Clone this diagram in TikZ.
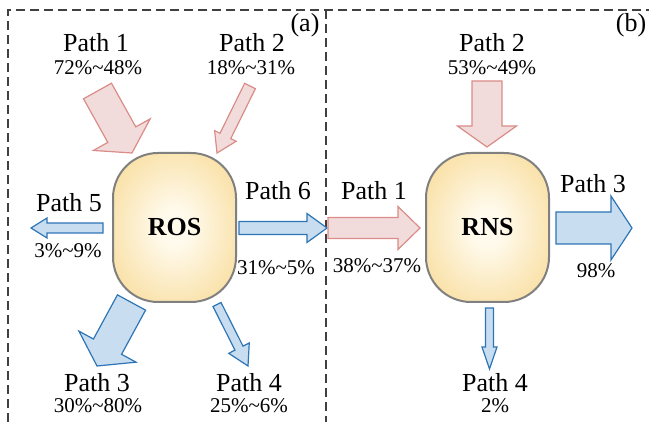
\documentclass[tikz,border=0pt]{standalone}
\usepackage{fontspec}
\setmainfont{Liberation Serif}
\usepackage{tikz}
\usetikzlibrary{calc}
\definecolor{inpink}{RGB}{242,220,219}
\definecolor{inpinkline}{RGB}{217,140,136}
\definecolor{outblue}{RGB}{200,222,240}
\definecolor{outblueline}{RGB}{46,117,182}
\definecolor{tankline}{RGB}{128,128,128}
\definecolor{tankinner}{RGB}{255,250,236}
\definecolor{tankouter}{RGB}{245,206,116}
\definecolor{frameline}{RGB}{64,64,64}
\pgfdeclareradialshading{tankglow}{\pgfpoint{0bp}{0bp}}{%
  color(0bp)=(tankinner); color(6bp)=(tankinner); color(46bp)=(tankouter); color(100bp)=(tankouter)}
\newcommand\sharerange[2]{#1\%\textasciitilde#2\%}
% block arrow: style, tail, tip, half shaft, half head, head length
\newcommand\blockarrow[6]{%
  \coordinate (#2-hb) at ($(#3)!#6pt!(#2)$);
  \draw[#1] ($(#2)!#4pt!90:(#3)$) -- ($(#2-hb)!#4pt!90:(#3)$) -- ($(#2-hb)!#5pt!90:(#3)$)
    -- (#3) -- ($(#2-hb)!#5pt!-90:(#3)$) -- ($(#2-hb)!#4pt!-90:(#3)$)
    -- ($(#2)!#4pt!-90:(#3)$) -- cycle;}
\tikzset{
  inflow/.style={draw=inpinkline, fill=inpink, line width=1.2pt, line join=miter},
  outflow/.style={draw=outblueline, fill=outblue, line width=1.2pt, line join=miter},
  tank/.style={draw=tankline, line width=2pt, shading=tankglow, rounded corners=45pt,
    minimum width=123pt, minimum height=149pt, inner sep=0pt,
    font=\fontsize{26}{28}\selectfont\bfseries},
  pathlbl/.style={font=\fontsize{26}{28}\selectfont, anchor=base, inner sep=0pt},
  sharelbl/.style={font=\fontsize{21}{23}\selectfont, anchor=base, inner sep=0pt},
  panelframe/.style={draw=frameline, line width=1.3pt, dash pattern=on 9pt off 5pt}
}

\begin{document}
\begin{tikzpicture}[x=1pt,y=-1pt]
\useasboundingbox (0,0) rectangle (649,422);
% panels
\draw[panelframe] (8,422) -- (8,10) -- (649,10);
\draw[panelframe] (326,10) -- (326,422);
\node[pathlbl] (taga) at (305,32) {(a)};
\node[pathlbl] (tagb) at (631,32) {(b)};

% arrow ends
\coordinate (in1a) at (97.5,91);   \coordinate (in1a-tip) at (132,153);
\coordinate (in2a) at (250,86);    \coordinate (in2a-tip) at (217,153);
\coordinate (out5a) at (103,228);  \coordinate (out5a-tip) at (31,228);
\coordinate (out6a) at (239,228);  \coordinate (out6a-tip) at (327,228);
\coordinate (out3a) at (131.5,302.5); \coordinate (out3a-tip) at (97,366);
\coordinate (out4a) at (217,304.5);   \coordinate (out4a-tip) at (248,366);
\coordinate (in1b) at (328,228);   \coordinate (in1b-tip) at (420,228);
\coordinate (in2b) at (487,81);    \coordinate (in2b-tip) at (487,147);
\coordinate (out3b) at (556,228);  \coordinate (out3b-tip) at (632,228);
\coordinate (out4b) at (489.5,308); \coordinate (out4b-tip) at (489.5,369);

\blockarrow{inflow}{in1a}{in1a-tip}{16}{32.5}{21}
\blockarrow{inflow}{in2a}{in2a-tip}{6}{12}{19}
\blockarrow{outflow}{out5a}{out5a-tip}{5}{10}{16}
\blockarrow{outflow}{out6a}{out6a-tip}{6.5}{14.5}{20}
\blockarrow{outflow}{out3a}{out3a-tip}{16}{32.5}{22}
\blockarrow{outflow}{out4a}{out4a-tip}{4.5}{11.5}{20}
\blockarrow{inflow}{in1b}{in1b-tip}{10.5}{21.5}{22}
\blockarrow{inflow}{in2b}{in2b-tip}{15}{29.5}{21}
\blockarrow{outflow}{out3b}{out3b-tip}{16}{32}{21}
\blockarrow{outflow}{out4b}{out4b-tip}{4}{7.5}{22}

% tanks
\node[tank] (ros) at (174.5,227.5) {ROS};
\node[tank] (rns) at (487.5,227.5) {RNS};

% labels (a)
\node[pathlbl] (p1a) at (96,52) {Path 1};
\node[sharelbl] (p1av) at (98,75) {\sharerange{72}{48}};
\node[pathlbl] (p2a) at (252,52) {Path 2};
\node[sharelbl] (p2av) at (251,75) {\sharerange{18}{31}};
\node[pathlbl] (p5a) at (69,212) {Path 5};
\node[sharelbl] (p5av) at (68,258) {\sharerange{3}{9}};
\node[pathlbl] (p6a) at (278,200) {Path 6};
\node[sharelbl] (p6av) at (276,275) {\sharerange{31}{5}};
\node[pathlbl] (p3a) at (97,392) {Path 3};
\node[sharelbl] (p3av) at (98,413) {\sharerange{30}{80}};
\node[pathlbl] (p4a) at (249,392) {Path 4};
\node[sharelbl] (p4av) at (249,413) {\sharerange{25}{6}};
% labels (b)
\node[pathlbl] (p2b) at (492,52) {Path 2};
\node[sharelbl] (p2bv) at (492,75) {\sharerange{53}{49}};
\node[pathlbl] (p1b) at (374,200) {Path 1};
\node[sharelbl] (p1bv) at (377,273) {\sharerange{38}{37}};
\node[pathlbl] (p3b) at (593,193) {Path 3};
\node[sharelbl] (p3bv) at (596,278) {98\%};
\node[pathlbl] (p4b) at (495,392) {Path 4};
\node[sharelbl] (p4bv) at (495,413) {2\%};
\end{tikzpicture}
\end{document}
